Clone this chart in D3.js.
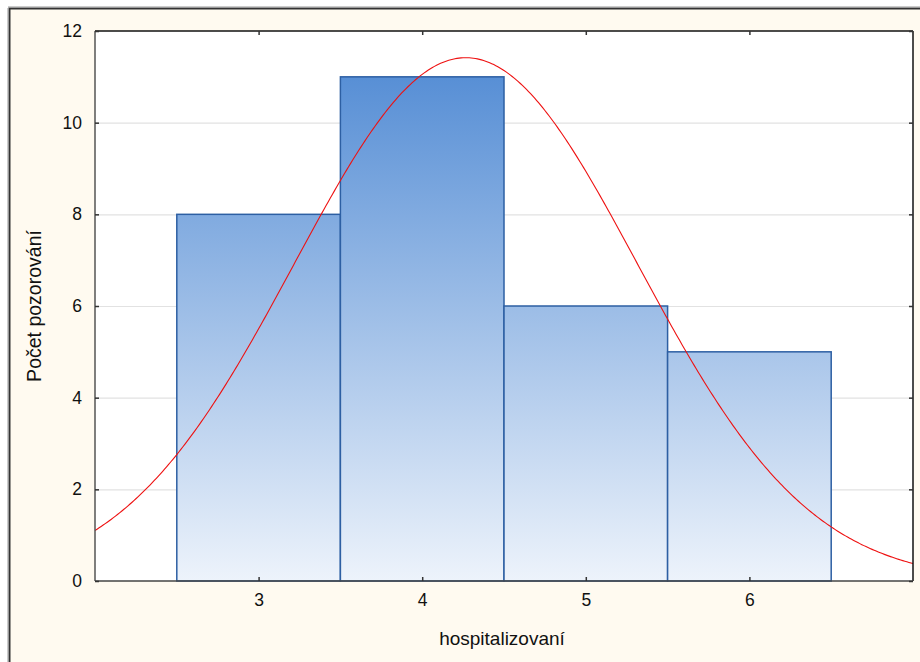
<!DOCTYPE html>
<html>
<head>
<meta charset="utf-8">
<script src="https://cdn.jsdelivr.net/npm/d3@7"></script>
<style>
  html, body { margin: 0; padding: 0; background: #ffffff; }
  svg { display: block; }
  text { font-family: "Liberation Sans", Arial, sans-serif; fill: #111; }
</style>
</head>
<body>
<svg id="chart" width="920" height="662"></svg>
<script>
// Histogram of hospitalised counts with a fitted normal curve
const binCenters = [3, 4, 5, 6];
const binCounts = [8, 11, 6, 5];
const yTicks = [0, 2, 4, 6, 8, 10, 12];
const xTicks = [3, 4, 5, 6];
const xLabel = "hospitalizovaní";
const yLabel = "Počet pozorování";

const W = 920, H = 662;
const plot = { left: 95, top: 31, right: 913, bottom: 581 };

const svg = d3.select("#chart");

// outer frame
svg.append("rect").attr("x", 0).attr("y", 0).attr("width", W).attr("height", H).attr("fill", "#ffffff");
svg.append("rect").attr("x", 9.5).attr("y", 8.5).attr("width", W + 10).attr("height", H + 10)
  .attr("fill", "#fffaf0").attr("stroke", "#333").attr("stroke-width", 2);
svg.append("line").attr("x1", 8).attr("x2", 8).attr("y1", 8).attr("y2", H).attr("stroke", "#999").attr("stroke-width", 1);
svg.append("line").attr("x1", 8).attr("x2", W).attr("y1", 7).attr("y2", 7).attr("stroke", "#999").attr("stroke-width", 1);

const x = d3.scaleLinear().domain([2, 7]).range([plot.left, plot.right]);
const y = d3.scaleLinear().domain([0, 12]).range([plot.bottom, plot.top]);

// plot background
svg.append("rect").attr("x", plot.left).attr("y", plot.top)
  .attr("width", plot.right - plot.left).attr("height", plot.bottom - plot.top)
  .attr("fill", "#ffffff");

// gradient for bars spanning the plot height
const defs = svg.append("defs");
const grad = defs.append("linearGradient").attr("id", "barGrad")
  .attr("gradientUnits", "userSpaceOnUse")
  .attr("x1", 0).attr("x2", 0).attr("y1", y(12)).attr("y2", y(0));
grad.append("stop").attr("offset", "0%").attr("stop-color", "#4a86d2");
grad.append("stop").attr("offset", "100%").attr("stop-color", "#edf3fb");

// horizontal gridlines
svg.append("g").selectAll("line").data(yTicks.filter(d => d > 0 && d < 12)).join("line")
  .attr("x1", plot.left).attr("x2", plot.right)
  .attr("y1", d => y(d) + 0.5).attr("y2", d => y(d) + 0.5)
  .attr("stroke", "#e2e2e2").attr("stroke-width", 1.2);

// bars
const bars = binCenters.map((c, i) => ({ c, n: binCounts[i] }));
svg.append("g").selectAll("rect").data(bars).join("rect")
  .attr("x", d => x(d.c - 0.5))
  .attr("y", d => y(d.n))
  .attr("width", d => x(d.c + 0.5) - x(d.c - 0.5))
  .attr("height", d => y(0) - y(d.n))
  .attr("fill", "url(#barGrad)")
  .attr("stroke", "#2d5fa3").attr("stroke-width", 1.5);

// fitted normal curve from the binned data
const total = d3.sum(binCounts);
const mean = d3.sum(bars, d => d.c * d.n) / total;
const sd = Math.sqrt(d3.sum(bars, d => d.n * (d.c - mean) ** 2) / (total - 1));
const binWidth = 1;
const pts = d3.range(0, 401).map(i => {
  const xv = 2 + 5 * i / 400;
  const z = (xv - mean) / sd;
  return [xv, total * binWidth * Math.exp(-0.5 * z * z) / (sd * Math.sqrt(2 * Math.PI))];
});
svg.append("path").datum(pts)
  .attr("d", d3.line().x(d => x(d[0])).y(d => y(d[1])))
  .attr("fill", "none").attr("stroke", "#ee1111").attr("stroke-width", 1.1);

// plot border
svg.append("line").attr("x1", plot.left).attr("x2", plot.right).attr("y1", plot.top).attr("y2", plot.top)
  .attr("stroke", "#111").attr("stroke-width", 1.3);
svg.append("line").attr("x1", plot.right).attr("x2", plot.right).attr("y1", plot.top).attr("y2", plot.bottom)
  .attr("stroke", "#111").attr("stroke-width", 1.5);
svg.append("line").attr("x1", plot.left).attr("x2", plot.left).attr("y1", plot.top).attr("y2", plot.bottom)
  .attr("stroke", "#555").attr("stroke-width", 1.5);
svg.append("line").attr("x1", plot.left).attr("x2", plot.right).attr("y1", plot.bottom).attr("y2", plot.bottom)
  .attr("stroke", "#444").attr("stroke-width", 1.5);

// axes with inward ticks
const fmt = d3.format("d");
const yAxisL = svg.append("g").attr("transform", `translate(${plot.left},0)`)
  .call(d3.axisLeft(y).tickValues(yTicks).tickFormat(fmt).tickSizeInner(-4).tickSizeOuter(0).tickPadding(13));
const yAxisR = svg.append("g").attr("transform", `translate(${plot.right},0)`)
  .call(d3.axisRight(y).tickValues(yTicks).tickSizeInner(-4).tickSizeOuter(0).tickFormat(""));
const xAxisB = svg.append("g").attr("transform", `translate(0,${plot.bottom})`)
  .call(d3.axisBottom(x).tickValues(xTicks).tickFormat(fmt).tickSizeInner(-4).tickSizeOuter(0).tickPadding(13));
const xAxisT = svg.append("g").attr("transform", `translate(0,${plot.top})`)
  .call(d3.axisTop(x).tickValues(xTicks).tickSizeInner(-4).tickSizeOuter(0).tickFormat(""));
[yAxisL, yAxisR, xAxisB, xAxisT].forEach(g => {
  g.select(".domain").remove();
  g.selectAll(".tick line").attr("stroke", "#333").attr("stroke-width", 1.5);
  g.selectAll("text").attr("font-size", 17.5).attr("fill", "#111")
    .attr("font-family", "Liberation Sans, Arial, sans-serif");
});

// axis titles
svg.append("text").attr("x", 502).attr("y", 645)
  .attr("text-anchor", "middle").attr("font-size", 19).text(xLabel);
svg.append("text").attr("transform", "translate(41,306) rotate(-90)")
  .attr("text-anchor", "middle").attr("font-size", 19.5).text(yLabel);
</script>
</body>
</html>
